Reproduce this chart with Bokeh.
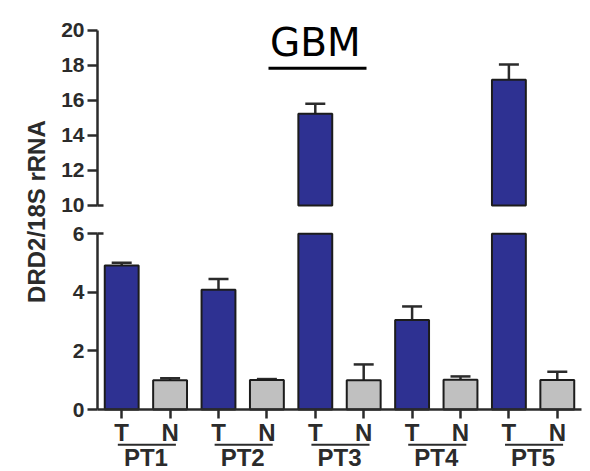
import numpy as np
from bokeh.plotting import figure
from bokeh.models import (Range1d, LinearAxis, FixedTicker, ColumnDataSource,
                          Whisker, TeeHead, Label, BoxAnnotation)
from bokeh.core.properties import value
from bokeh.embed import file_html
from bokeh.resources import INLINE

# ---- data ----
patients = ["PT1", "PT2", "PT3", "PT4", "PT5"]
groups = ["T", "N"]
tumor = [4.92, 4.09, 15.23, 3.06, 17.17]
tumor_err = [0.09, 0.37, 0.57, 0.46, 0.87]
normal = [1.00, 1.01, 1.00, 1.02, 1.01]
normal_err = [0.07, 0.03, 0.54, 0.11, 0.28]
lower_ticks = [0, 2, 4, 6]
upper_ticks = [10, 12, 14, 16, 18, 20]
break_low = 6
break_high = 10
title_text = "GBM"
y_label = "DRD2/18S rRNA"

# ---- styles ----
BLUE = "#2E3192"
GRAY = "#C0C0C0"
EDGE = "#1c1c1c"
AX = "#2b2b2b"
FONT = "Liberation Sans"

# categorical slots -> positions along x (one unit per bar)
factors = [(pt, g) for pt in patients for g in groups]
xpos = np.arange(len(factors)) + 0.5
vals, errs, cols = [], [], []
for t, te, n, ne in zip(tumor, tumor_err, normal, normal_err):
    vals += [t, n]
    errs += [te, ne]
    cols += [BLUE, GRAY]
vals = np.array(vals)
errs = np.array(errs)

low_src = ColumnDataSource(dict(x=xpos, top=np.minimum(vals, break_low), color=cols))
lw = vals <= break_low
low_err_src = ColumnDataSource(dict(x=xpos[lw], top=vals[lw], upper=(vals + errs)[lw]))
up = vals > break_high
up_src = ColumnDataSource(dict(x=xpos[up], top=vals[up], upper=(vals + errs)[up],
                               color=[c for c, m in zip(cols, up) if m]))

p = figure(width=590, height=471, x_range=Range1d(-2.004, 10.186),
           y_range=Range1d(-2.117, 13.97),
           output_backend="svg", toolbar_location=None,
           min_border_left=0, min_border_right=0, min_border_top=0, min_border_bottom=0)
p.extra_y_ranges = {"upper": Range1d(-5.174, 21.694)}
p.xgrid.visible = False
p.ygrid.visible = False
p.outline_line_color = None
p.background_fill_color = "white"
p.border_fill_color = "white"

p.vbar(x="x", top="top", bottom=0, width=0.7, source=low_src,
       fill_color="color", line_color=EDGE, line_width=2)
p.vbar(x="x", top="top", bottom=break_high, width=0.7, source=up_src,
       fill_color="color", line_color=EDGE, line_width=2, y_range_name="upper")

for src, rn in ((low_err_src, "default"), (up_src, "upper")):
    p.add_layout(Whisker(base="x", lower="top", upper="upper", source=src,
                         lower_head=None,
                         upper_head=TeeHead(size=20, line_width=2.5, line_color=AX),
                         line_width=2.5, line_color=AX, y_range_name=rn))

# y axes (lower 0-6, upper 10-20)
ya = p.yaxis[0]
ya.bounds = (0, break_low)
ya.ticker = FixedTicker(ticks=lower_ticks)
ya.fixed_location = 0
yu = LinearAxis(y_range_name="upper", bounds=(break_high, upper_ticks[-1]),
                ticker=FixedTicker(ticks=upper_ticks), fixed_location=0)
p.add_layout(yu, "left")

for ax in (ya, yu):
    ax.axis_line_width = 2.5
    ax.axis_line_color = AX
    ax.major_tick_line_width = 2.5
    ax.major_tick_line_color = AX
    ax.major_tick_out = 10
    ax.major_tick_in = 0
    ax.minor_tick_line_color = None
    ax.major_label_text_font = FONT
    ax.major_label_text_font_style = "bold"
    ax.major_label_text_font_size = "21px"
    ax.major_label_text_color = AX
    ax.major_label_standoff = 3

# small inward feet at the break ends of both axis segments
for rn, tick in (("default", break_low), ("upper", break_high)):
    foot = LinearAxis(y_range_name=rn, ticker=FixedTicker(ticks=[tick]),
                      fixed_location=0, bounds=(tick, tick))
    foot.axis_line_color = None
    foot.major_tick_line_width = 2.5
    foot.major_tick_line_color = AX
    foot.major_tick_in = 6
    foot.major_tick_out = 0
    foot.minor_tick_line_color = None
    foot.major_label_text_color = None
    p.add_layout(foot, "left")

# x axis with T / N labels
xa = p.xaxis[0]
xa.fixed_location = 0
xa.bounds = (0, len(factors))
xa.ticker = FixedTicker(ticks=list(xpos))
xa.major_label_overrides = {float(x): g for x, (_, g) in zip(xpos, factors)}
xa.minor_tick_line_color = None
xa.axis_line_width = 2.5
xa.axis_line_color = AX
xa.major_tick_line_width = 2.5
xa.major_tick_line_color = AX
xa.major_tick_out = 9
xa.major_tick_in = 0
xa.major_label_text_font = FONT
xa.major_label_text_font_style = "bold"
xa.major_label_text_font_size = "24px"
xa.major_label_text_color = AX
xa.major_label_standoff = 0

# brackets and patient labels
t_pos = xpos[0::2]
n_pos = xpos[1::2]
p.segment(x0=t_pos - 0.08, y0=-1.2, x1=n_pos + 0.12, y1=-1.2,
          line_width=2, line_color=AX)
p.text(x=(t_pos + n_pos) / 2, y=-1.64, text=patients, text_font=value(FONT),
       text_font_style="bold", text_font_size="24px", text_align="center",
       text_baseline="middle", text_color=AX)

# title with underline
p.add_layout(Label(x=4.5, y=19.27, y_range_name="upper", text=title_text,
                   text_font="DejaVu Sans", text_font_size="39px",
                   text_align="center", text_baseline="middle", text_color="black"))
p.add_layout(BoxAnnotation(left=3.533, right=5.558, bottom=17.74, top=17.91,
                           y_range_name="upper", fill_color="black", fill_alpha=1,
                           line_alpha=0))

# y axis title
p.add_layout(Label(x=-1.26, y=6.76, text=y_label, angle=np.pi / 2,
                   text_font=FONT, text_font_style="bold", text_font_size="24px",
                   text_align="center", text_baseline="middle", text_color=AX))

open("out.html", "w").write(file_html(p, INLINE))
